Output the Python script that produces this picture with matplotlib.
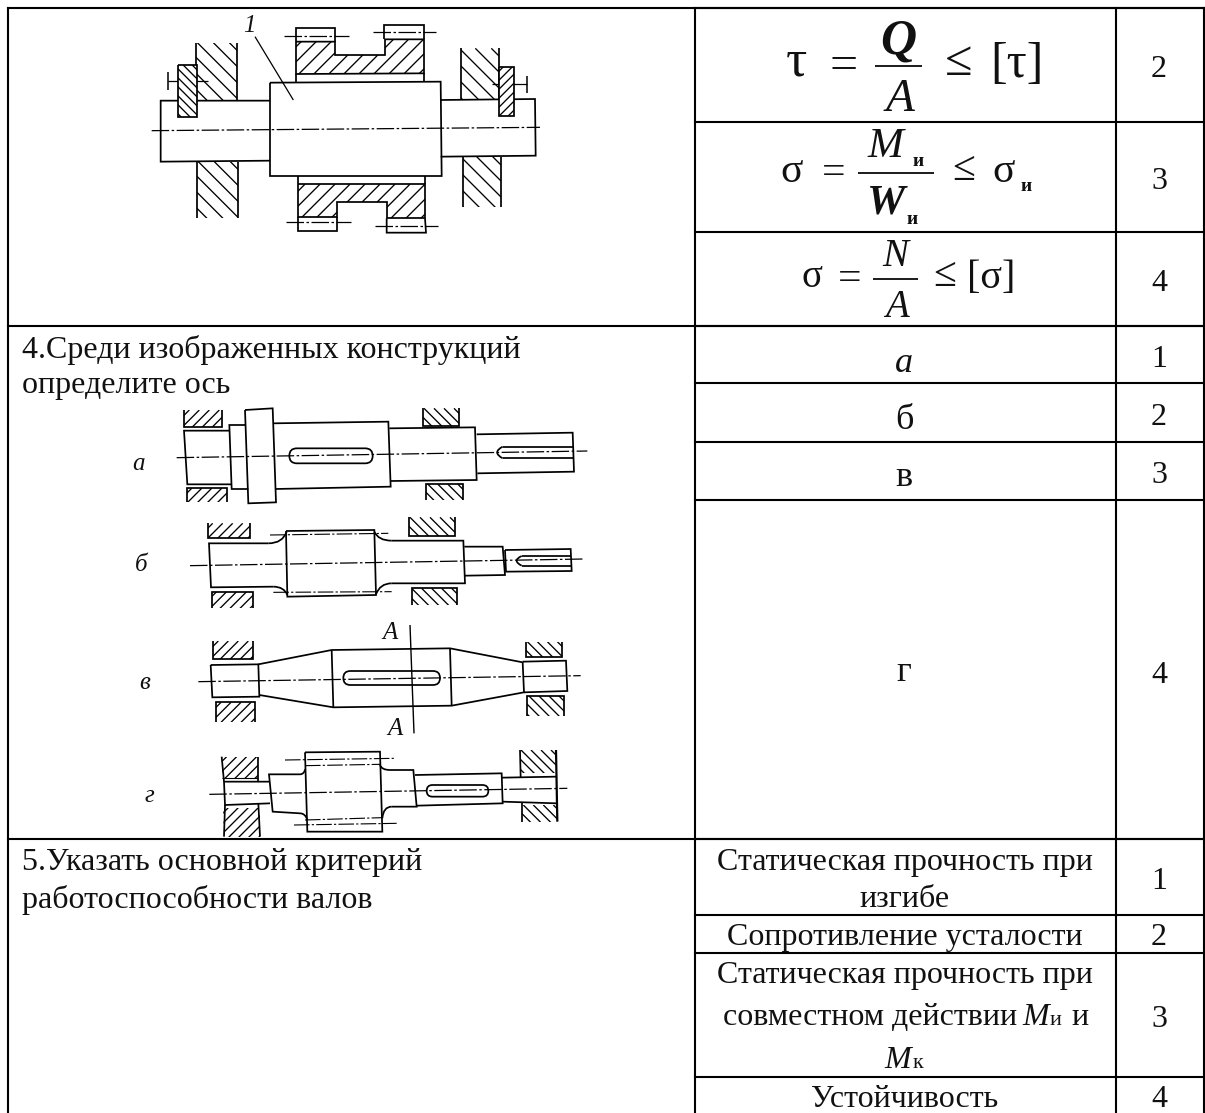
import numpy as np
import matplotlib
matplotlib.use("Agg")
import matplotlib.pyplot as plt
from matplotlib.collections import LineCollection
from matplotlib.patches import Polygon, PathPatch, FancyBboxPatch
from matplotlib.path import Path

SERIF = "Liberation Serif"
W, H = 1205, 1113

# ---- table content -------------------------------------------------------
col_x = [8, 695, 1116, 1204]
left_rows = [8, 326, 839, 1113]
mid_rows = [8, 122, 232, 326, 383, 442, 500, 839, 915, 953, 1077]
question_lines = [("4.Среди изображенных конструкций", 358),
                  ("определите ось", 393),
                  ("5.Указать основной критерий", 870),
                  ("работоспособности валов", 908)]
answer_lines = [("Статическая прочность при", 870), ("изгибе", 907),
                ("Сопротивление усталости", 945),
                ("Статическая прочность при", 983),
                ("Устойчивость", 1107)]
number_labels = [("2", 77), ("3", 189), ("4", 291), ("1", 367), ("2", 425), ("3", 483),
                 ("4", 683), ("1", 889), ("2", 945), ("3", 1027), ("4", 1107)]

fig = plt.figure(figsize=(W / 100, H / 100), dpi=100)
ax = fig.add_axes([0, 0, 1, 1])
ax.set_xlim(0, W)
ax.set_ylim(H, 0)
ax.axis("off")

LW = 1.25


def tr(o, pts):
    return [(o[0] + x / 3, o[1] + y / 3) for x, y in pts]


def pl(o, pts, lw=LW, **kw):
    p = np.array(tr(o, pts))
    ax.plot(p[:, 0], p[:, 1], color="black", lw=lw, solid_capstyle="butt",
            solid_joinstyle="miter", **kw)


def cl(o, pts, lw=0.9):
    p = np.array(tr(o, pts))
    ax.plot(p[:, 0], p[:, 1], color="black", lw=lw, dashes=(14, 2, 2, 2))


def hatch(o, pts, direction, step=10, lw=0.95, z=2):
    p = np.array(tr(o, pts))
    patch = Polygon(p, closed=True, fc="none", ec="none")
    ax.add_patch(patch)
    x0, y0 = p.min(0)
    x1, y1 = p.max(0)
    span = (x1 - x0) + (y1 - y0)
    segs = []
    for c in np.arange(step / 2, span + step, step):
        if direction == "/":      # rising to the right
            segs.append([(x0 + c, y0), (x0 + c - span, y0 + span)])
        else:                     # falling to the right
            segs.append([(x1 - c, y0), (x1 - c + span, y0 + span)])
    lc = LineCollection(segs, colors="black", linewidths=lw, zorder=z)
    ax.add_collection(lc)
    lc.set_clip_path(patch)


def bearing(o, x0, y0, x1, y1, direction, open_side="far", step=10):
    hatch(o, [(x0, y0), (x1, y0), (x1, y1), (x0, y1)], direction, step)
    if open_side == "top":
        pl(o, [(x0, y0), (x0, y1), (x1, y1), (x1, y0)])
    else:
        pl(o, [(x0, y1), (x0, y0), (x1, y0), (x1, y1)])


def fillet(o, a, c, b):
    verts = tr(o, [a, c, b])
    ax.add_patch(PathPatch(Path(verts, [Path.MOVETO, Path.CURVE3, Path.CURVE3]),
                           fc="none", ec="black", lw=LW))


def key(o, x0, y0, x1, y1):
    (a, b), (c, d) = tr(o, [(x0, y0), (x1, y1)])
    ax.add_patch(FancyBboxPatch((a, b), c - a, d - b,
                                boxstyle=f"round,pad=0,rounding_size={(d - b) / 2}",
                                fc="none", ec="black", lw=LW))


def txt(x, y, s, size=23, ha="center", style="normal", weight="normal"):
    ax.text(x, y, s, fontsize=size, ha=ha, va="baseline", family=SERIF,
            style=style, weight=weight, color="#111111")


# ---- grid ----------------------------------------------------------------
GRID = 1.5
for x in col_x:
    ax.plot([x, x], [left_rows[0], left_rows[-1]], color="black", lw=GRID)
for y in left_rows[:-1]:
    ax.plot([col_x[0], col_x[3]], [y, y], color="black", lw=GRID)
for y in mid_rows:
    ax.plot([col_x[1], col_x[3]], [y, y], color="black", lw=GRID)

# ---- text ----------------------------------------------------------------
for s, y in question_lines:
    txt(22, y, s, ha="left")
for s, y in answer_lines:
    txt(905, y, s)
for s, y in number_labels:
    txt(1159, y, s)
txt(723, 1025, "совместном действии", ha="left")
txt(1036, 1025, "M", style="italic")
txt(1056, 1025, "и", size=16)
txt(1080, 1025, "и")
txt(898, 1068, "M", style="italic")
txt(918, 1068, "к", size=16)
txt(904, 372, "a", size=26, style="italic")
txt(904, 429, "б", size=26)
txt(904, 486, "в", size=26)
txt(904, 681, "г", size=26)

# formulas (positions given in crop units)
F = (690, 0)


def ft(x, y, s, size=26, style="normal", weight="normal"):
    (a, b), = tr(F, [(x, y)])
    txt(a, b, s, size=size, style=style, weight=weight)


ft(320, 225, "τ", 38)
ft(462, 238, "=", 36)
pl(F, [(555, 198), (695, 198)])
ft(625, 160, "Q", 36, "italic", "bold")
ft(630, 333, "A", 34, "italic")
ft(805, 224, "≤", 36)
ft(980, 232, "[τ]", 36)

ft(305, 545, "σ", 30)
ft(432, 553, "=", 30)
pl(F, [(505, 518), (733, 518)])
ft(585, 470, "M", 31, "italic")
ft(685, 498, "и", 14, weight="bold")
ft(585, 640, "W", 31, "italic", "bold")
ft(665, 672, "и", 14, weight="bold")
ft(820, 539, "≤", 30)
ft(940, 545, "σ", 30)
ft(1008, 572, "и", 14, weight="bold")

ft(365, 860, "σ", 28)
ft(478, 871, "=", 30)
pl(F, [(550, 838), (685, 838)])
ft(615, 797, "N", 28, "italic")
ft(620, 950, "A", 28, "italic")
ft(765, 858, "≤", 30)
ft(905, 865, "[σ]", 29)

# ---- drawing 1: gear shaft ----------------------------------------------
A = (130, 0)
hatch(A, [(197, 128), (322, 128), (322, 302), (197, 302)], "\\", 16)
hatch(A, [(200, 485), (325, 485), (325, 655), (200, 655)], "\\", 16)
hatch(A, [(993, 145), (1108, 145), (1108, 297), (993, 297)], "\\", 16)
hatch(A, [(1000, 470), (1112, 470), (1112, 622), (1000, 622)], "\\", 16)
pl(A, [(197, 128), (197, 302)])
pl(A, [(322, 128), (322, 302)])
pl(A, [(200, 485), (200, 655)])
pl(A, [(325, 485), (325, 655)])
pl(A, [(993, 145), (993, 297)])
pl(A, [(1108, 145), (1108, 297)])
pl(A, [(1000, 470), (1000, 622)])
pl(A, [(1112, 470), (1112, 622)])

nut_left = [(145, 195), (200, 195), (200, 350), (145, 350)]
nut_right = [(1107, 200), (1153, 200), (1153, 347), (1107, 347)]
for pts, d in ((nut_left, "\\"), (nut_right, "/")):
    ax.add_patch(Polygon(tr(A, pts), fc="white", ec="none", zorder=2.5))
    hatch(A, pts, d, 9, z=3)
    pl(A, pts + [pts[0]], zorder=3)

pl(A, [(420, 302), (92, 302), (92, 485), (420, 482)])
pl(A, [(932, 300), (1215, 297), (1217, 467), (932, 470)])
pl(A, [(420, 248), (932, 245), (935, 528), (420, 528), (420, 248)])
cl(A, [(65, 392), (1230, 382)])

gear_top = [(498, 125), (615, 125), (615, 165), (765, 165), (765, 118), (882, 118), (882, 220), (498, 222)]
hatch(A, gear_top, "/", 15)
pl(A, gear_top + [gear_top[0]])
pl(A, [(498, 125), (498, 85), (615, 85), (615, 125)])
pl(A, [(762, 118), (762, 75), (882, 75), (882, 118)])
pl(A, [(498, 222), (498, 248)])
pl(A, [(882, 220), (882, 245)])

gear_bot = [(503, 552), (885, 552), (885, 655), (770, 655), (770, 607), (622, 607), (622, 650), (503, 650)]
hatch(A, gear_bot, "/", 15)
pl(A, gear_bot + [gear_bot[0]])
pl(A, [(503, 650), (503, 692), (622, 692), (622, 650)])
pl(A, [(770, 655), (770, 698), (888, 698), (885, 655)])
pl(A, [(503, 528), (503, 552)])
pl(A, [(885, 528), (885, 552)])
cl(A, [(462, 107), (658, 107)])
cl(A, [(728, 95), (918, 95)])
cl(A, [(468, 667), (662, 667)])
cl(A, [(735, 677), (925, 677)])
pl(A, [(115, 215), (115, 270)], lw=1.1)
pl(A, [(115, 242), (235, 242)], lw=0.9)
pl(A, [(1190, 228), (1190, 278)], lw=1.1)
pl(A, [(1085, 253), (1190, 253)], lw=0.9)
pl(A, [(375, 110), (490, 300)], lw=0.9)
(lx, ly), = tr(A, [(358, 97)])
txt(lx, ly, "1", size=18, style="italic")

# ---- drawing a, b --------------------------------------------------------
B = (130, 395)
txt(*tr(B, [(25, 225)])[0], "a", size=18, style="italic")
pl(B, [(298, 107), (162, 107), (172, 268), (305, 268)])
pl(B, [(348, 90), (298, 90), (305, 282), (355, 282)])
pl(B, [(345, 45), (428, 40), (438, 322), (355, 325), (345, 45)])
pl(B, [(430, 85), (775, 80), (782, 275), (435, 282)])
pl(B, [(778, 100), (1035, 97), (1040, 255), (782, 258)])
pl(B, [(1040, 118), (1328, 113), (1332, 230), (1042, 235)])
key(B, 478, 160, 728, 205)
pl(B, [(1328, 155), (1118, 155)])
pl(B, [(1328, 190), (1118, 190)])
fillet(B, (1118, 155), (1085, 172), (1118, 190))
cl(B, [(140, 188), (1372, 168)])
bearing(B, 163, 45, 277, 97, "/", "top")
bearing(B, 170, 280, 290, 322, "/")
bearing(B, 880, 40, 987, 92, "\\", "top")
bearing(B, 887, 267, 998, 315, "\\")

txt(*tr(B, [(35, 528)])[0], "б", size=18, style="italic")
pl(B, [(415, 445), (237, 445), (243, 577), (430, 575)])
fillet(B, (415, 445), (458, 445), (470, 410))
fillet(B, (430, 575), (462, 575), (472, 600))
pl(B, [(468, 408), (733, 405), (738, 600), (472, 605), (468, 408)])
fillet(B, (733, 410), (745, 437), (785, 437))
fillet(B, (738, 598), (750, 565), (785, 565))
pl(B, [(785, 437), (1000, 437), (1005, 565), (785, 565)])
pl(B, [(1003, 455), (1118, 455), (1125, 540), (1005, 542)])
pl(B, [(1125, 465), (1322, 462), (1325, 528), (1128, 530), (1125, 465)])
pl(B, [(1322, 483), (1175, 483)])
pl(B, [(1322, 512), (1175, 512)])
fillet(B, (1175, 483), (1145, 497), (1175, 512))
cl(B, [(420, 420), (775, 415)], lw=0.8)
cl(B, [(430, 592), (785, 590)], lw=0.8)
cl(B, [(180, 512), (1362, 492)])
bearing(B, 233, 385, 360, 430, "/", "top")
bearing(B, 245, 590, 370, 640, "/")
bearing(B, 838, 367, 975, 422, "\\", "top")
bearing(B, 845, 580, 980, 630, "\\")

# ---- drawing v, g --------------------------------------------------------
C = (130, 615)
txt(*tr(C, [(45, 222)])[0], "в", size=18, style="italic")
pl(C, [(242, 150), (385, 148), (388, 245), (247, 247), (242, 150)])
pl(C, [(385, 148), (605, 105), (960, 100), (1178, 142), (1182, 232), (965, 272), (610, 277), (388, 240)])
pl(C, [(605, 105), (610, 277)])
pl(C, [(960, 100), (965, 272)])
pl(C, [(1178, 140), (1308, 137), (1312, 228), (1182, 232)])
key(C, 640, 168, 930, 210)
cl(C, [(205, 200), (1352, 182)])
pl(C, [(840, 30), (852, 355)], lw=1.0)
txt(*tr(C, [(780, 72)])[0], "A", size=18, style="italic")
txt(*tr(C, [(795, 360)])[0], "A", size=18, style="italic")
bearing(C, 250, 78, 368, 133, "/", "top")
bearing(C, 258, 262, 375, 322, "/")
bearing(C, 1188, 80, 1297, 125, "\\", "top")
bearing(C, 1192, 243, 1302, 303, "\\")

txt(*tr(C, [(58, 560)])[0], "г", size=18, style="italic")
pl(C, [(417, 500), (282, 500), (285, 570), (420, 565)])
pl(C, [(510, 478), (417, 478), (428, 590), (510, 595)])
fillet(C, (510, 478), (522, 478), (526, 462))
fillet(C, (510, 595), (526, 595), (532, 615))
pl(C, [(525, 412), (750, 410), (757, 650), (532, 650), (525, 412)])
fillet(C, (750, 450), (755, 465), (780, 465))
fillet(C, (757, 610), (760, 575), (785, 575))
pl(C, [(780, 465), (850, 465), (860, 575), (785, 575)])
pl(C, [(855, 480), (1115, 475), (1118, 565), (860, 572)])
pl(C, [(1115, 488), (1278, 485)])
pl(C, [(1118, 560), (1280, 565)])
key(C, 890, 510, 1075, 545)
cl(C, [(465, 435), (795, 430)], lw=0.8)
cl(C, [(525, 452), (750, 448)], lw=0.8)
cl(C, [(525, 615), (755, 608)], lw=0.8)
cl(C, [(492, 630), (800, 625)], lw=0.8)
cl(C, [(238, 538), (1312, 520)])
hatch(C, [(275, 425), (385, 425), (385, 490), (275, 490)], "/")
pl(C, [(275, 425), (282, 500)])
pl(C, [(385, 425), (385, 500)])
pl(C, [(275, 490), (385, 490)], lw=0.8)
hatch(C, [(280, 578), (390, 578), (390, 665), (282, 665)], "/")
pl(C, [(285, 570), (282, 665)])
pl(C, [(385, 565), (390, 665)])
hatch(C, [(1170, 405), (1278, 405), (1278, 475), (1170, 475)], "\\")
pl(C, [(1170, 405), (1172, 488)])
pl(C, [(1278, 405), (1282, 620)], lw=1.6)
hatch(C, [(1175, 570), (1285, 570), (1285, 620), (1175, 620)], "\\")
pl(C, [(1175, 562), (1175, 620)])

fig.savefig("out.png", dpi=100)
